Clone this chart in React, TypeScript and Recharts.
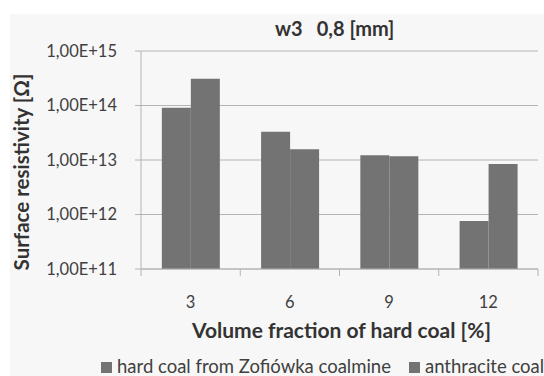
import { BarChart, Bar, XAxis, YAxis, CartesianGrid, Legend } from "recharts";

const categories = ["3", "6", "9", "12"];
const zofiowka = [9.1e13, 3.3e13, 1.22e13, 7.6e11];
const anthracite = [3.1e14, 1.57e13, 1.17e13, 8.45e12];
const yTicks = [1e11, 1e12, 1e13, 1e14, 1e15];

const seriesNames = ["hard coal from Zofiówka coalmine", "anthracite coal"];

const data = categories.map((c, i) => ({
  fraction: c,
  zofiowka: zofiowka[i],
  anthracite: anthracite[i],
}));

const FONT = "Lato, 'Open Sans', sans-serif";
const BAR = "#737373";
const GRID = "#b4b4b4";
const TEXT = "#404040";
const TITLE = "#333";

const PLOT_LEFT = 141;
const PLOT_RIGHT = 538;
const BAND = (PLOT_RIGHT - PLOT_LEFT) / categories.length;

function fmtSci(v: number) {
  const e = Math.round(Math.log10(v));
  return `1,00E+${e}`;
}

function XTick(props: any) {
  const { x, y, payload, index } = props;
  return (
    <g>
      {index === 0 && (
        <line x1={x - BAND / 2} x2={x - BAND / 2} y1={y - 8} y2={y - 1} stroke={GRID} />
      )}
      <line x1={x + BAND / 2} x2={x + BAND / 2} y1={y - 8} y2={y - 1} stroke={GRID} />
      <text x={x} y={y + 31} textAnchor="middle" fontSize={16.5} fill={TEXT} fontFamily={FONT}>
        {payload.value}
      </text>
    </g>
  );
}

function XLabel(props: any) {
  const vb = props.viewBox || {};
  return (
    <text
      x={vb.x + vb.width / 2 + 2}
      y={vb.y + 69}
      textAnchor="middle"
      fontFamily={FONT}
      fontSize={21}
      fontWeight={700}
      fill={TITLE}
    >
      Volume fraction of hard coal [%]
    </text>
  );
}

function YLabel() {
  const cx = 29;
  const cy = 172;
  return (
    <text
      x={cx}
      y={cy}
      transform={`rotate(-90, ${cx}, ${cy})`}
      textAnchor="middle"
      fontFamily={FONT}
      fontSize={20.5}
      fontWeight={700}
      fill={TITLE}
    >
      Surface resistivity [Ω]
    </text>
  );
}

function LegendContent() {
  return (
    <div
      style={{
        whiteSpace: "nowrap",
        fontFamily: FONT,
        fontSize: 18.5,
        lineHeight: "20px",
        color: TEXT,
      }}
    >
      {seriesNames.map((n, i) => (
        <span key={n} style={{ marginRight: i === 0 ? 18 : 0 }}>
          <span
            style={{
              width: 11,
              height: 11,
              background: BAR,
              marginRight: 5,
              display: "inline-block",
              verticalAlign: "baseline",
            }}
          />
          {n}
        </span>
      ))}
    </div>
  );
}

export default function App() {
  return (
    <div
      style={{
        position: "absolute",
        left: 0,
        top: 0,
        width: 544,
        height: 376,
        background: "#fff",
        overflow: "hidden",
      }}
    >
      <div style={{ position: "absolute", left: 10, top: 14, right: 0, bottom: 0, background: "#f7f7f7" }} />
      <div
        style={{
          position: "absolute",
          left: 275,
          top: 16,
          fontFamily: FONT,
          fontWeight: 700,
          fontSize: 20,
          color: TITLE,
          whiteSpace: "pre",
        }}
      >
        <span>w3</span>
        <span style={{ marginLeft: 14 }}>0,8 [mm]</span>
      </div>
      <div style={{ position: "absolute", left: 0, top: 0 }}>
        <BarChart
          width={544}
          height={376}
          data={data}
          margin={{ top: 51, right: 6, left: 0, bottom: 57 }}
          barCategoryGap="21%"
          barGap={0}
        >
          <CartesianGrid vertical={false} stroke={GRID} />
          <XAxis
            dataKey="fraction"
            height={30}
            stroke={GRID}
            tickLine={false}
            tick={<XTick />}
            interval={0}
            label={<XLabel />}
          />
          <YAxis
            width={PLOT_LEFT}
            scale="log"
            type="number"
            domain={[1e11, 1e15]}
            ticks={yTicks}
            allowDataOverflow
            stroke={GRID}
            tickSize={6}
            tickMargin={18}
            tickFormatter={fmtSci}
            tick={{ fontSize: 16.5, fill: TEXT, fontFamily: FONT }}
            label={<YLabel />}
          />
          <Legend
            verticalAlign="bottom"
            align="left"
            height={20}
            content={<LegendContent />}
            wrapperStyle={{ left: 101, bottom: 0, width: 600 }}
          />
          <Bar dataKey="zofiowka" name={seriesNames[0]} fill={BAR} isAnimationActive={false} />
          <Bar dataKey="anthracite" name={seriesNames[1]} fill={BAR} isAnimationActive={false} />
        </BarChart>
      </div>
    </div>
  );
}
